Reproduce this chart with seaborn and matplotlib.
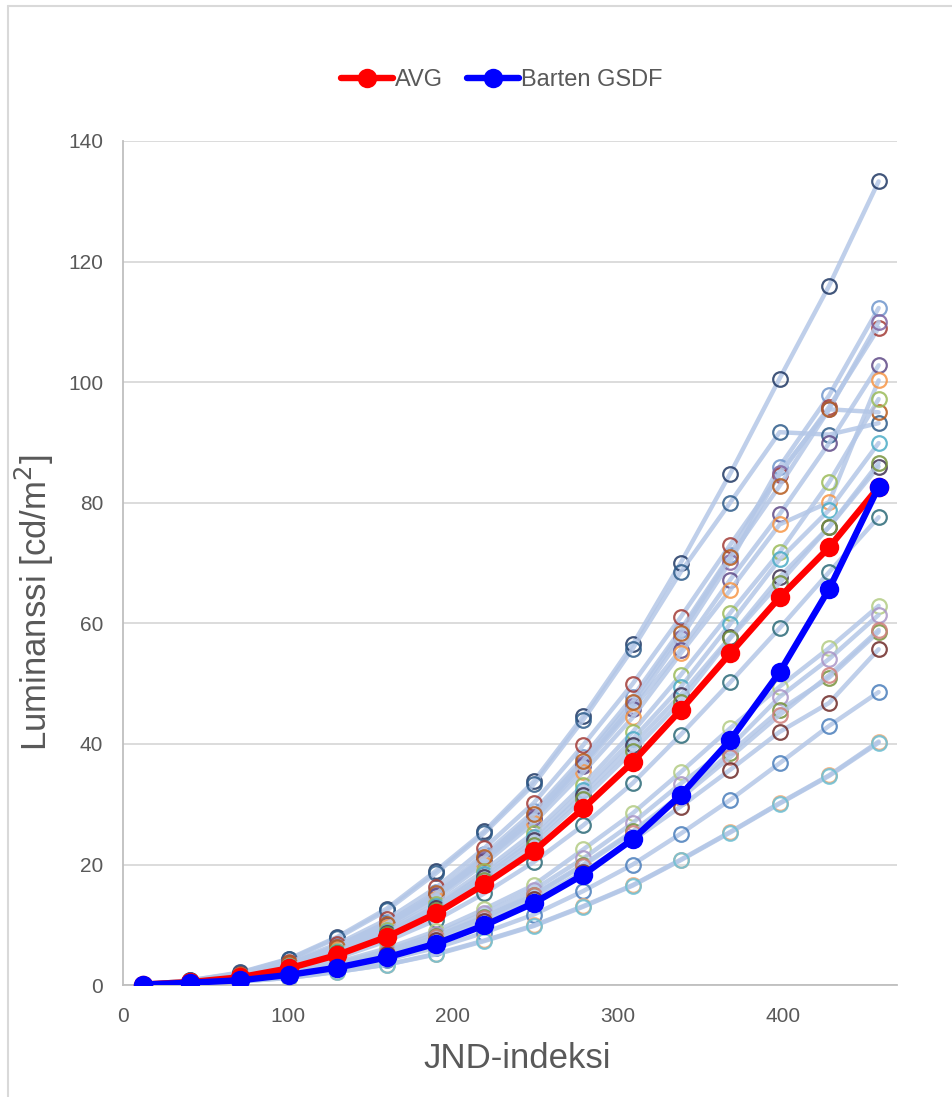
import matplotlib
matplotlib.use("Agg")
import matplotlib.pyplot as plt
import numpy as np
import pandas as pd
import seaborn as sns
from matplotlib.lines import Line2D

# JND index positions shared by every series
jnd = [12, 41, 71, 101, 130, 160, 190, 219, 249, 279, 309, 338, 368, 398, 428, 458]

# measured displays (light lines, hollow markers)
displays = {
    "s01": [0.1, 0.8, 2.1, 4.4, 8.0, 12.7, 19.0, 25.5, 33.8, 44.6, 56.5, 70.0, 84.8, 100.6, 116.0, 133.3],
    "s02": [0.1, 0.8, 2.0, 4.3, 7.8, 12.4, 18.6, 25.2, 33.3, 44.0, 55.8, 68.5, 80.0, 91.7, 91.3, 93.2],
    "s03": [0.1, 0.65, 1.7, 3.6, 6.5, 10.4, 15.4, 21.7, 28.8, 37.8, 47.8, 58.9, 71.3, 86.0, 97.8, 112.3],
    "s04": [0.1, 0.7, 1.8, 3.8, 6.8, 10.9, 16.2, 22.7, 30.2, 39.8, 50.0, 61.0, 73.0, 84.6, 95.9, 109.0],
    "s05": [0.1, 0.65, 1.7, 3.5, 6.3, 10.0, 14.9, 20.9, 27.8, 36.7, 46.3, 57.5, 70.2, 85.0, 95.5, 110.0],
    "s06": [0.1, 0.6, 1.6, 3.5, 6.2, 9.9, 14.7, 20.6, 27.5, 36.3, 45.8, 55.6, 67.2, 78.1, 89.9, 102.8],
    "s07": [0.1, 0.6, 1.6, 3.4, 6.0, 9.6, 14.3, 20.1, 26.9, 35.3, 44.4, 55.0, 65.5, 76.4, 80.1, 100.3],
    "s08": [0.1, 0.65, 1.7, 3.6, 6.4, 10.2, 15.2, 21.2, 28.3, 37.2, 47.0, 58.4, 71.0, 82.8, 95.5, 95.0],
    "s09": [0.1, 0.55, 1.5, 3.2, 5.7, 9.1, 13.5, 19.0, 25.3, 33.2, 42.0, 51.4, 61.7, 71.8, 83.4, 97.2],
    "s10": [0.1, 0.55, 1.4, 3.1, 5.5, 8.8, 13.1, 18.4, 24.5, 32.3, 40.8, 49.4, 59.9, 70.6, 78.8, 89.9],
    "s11": [0.1, 0.55, 1.4, 3.0, 5.4, 8.6, 12.8, 18.0, 24.0, 31.6, 39.8, 48.1, 57.7, 67.7, 76.0, 86.0],
    "s12": [0.1, 0.5, 1.4, 2.9, 5.3, 8.4, 12.5, 17.5, 23.3, 30.8, 38.8, 47.0, 57.5, 66.7, 76.0, 86.6],
    "s13": [0.1, 0.45, 1.2, 2.5, 4.5, 7.3, 10.8, 15.2, 20.4, 26.5, 33.5, 41.5, 50.2, 59.2, 68.5, 77.6],
    "s14": [0.1, 0.4, 1.0, 2.1, 3.8, 6.1, 9.0, 12.6, 16.6, 22.5, 28.5, 35.3, 42.6, 49.5, 55.9, 62.9],
    "s15": [0.1, 0.35, 0.95, 2.0, 3.6, 5.7, 8.5, 11.9, 15.8, 21.0, 26.9, 33.4, 39.5, 47.8, 54.1, 61.4],
    "s16": [0.1, 0.35, 0.9, 1.9, 3.4, 5.4, 8.1, 11.3, 15.0, 20.0, 25.5, 31.5, 38.5, 45.6, 51.0, 58.6],
    "s17": [0.1, 0.35, 0.9, 1.9, 3.4, 5.4, 8.0, 11.2, 14.9, 19.8, 25.3, 31.0, 37.8, 44.8, 51.4, 58.9],
    "s18": [0.1, 0.3, 0.85, 1.8, 3.2, 5.1, 7.5, 10.6, 14.2, 18.8, 24.0, 29.6, 35.7, 42.0, 46.8, 55.7],
    "s19": [0.1, 0.3, 0.7, 1.5, 2.6, 4.2, 6.2, 8.7, 11.7, 15.6, 20.0, 25.1, 30.7, 36.8, 43.0, 48.6],
    "s20": [0.1, 0.25, 0.6, 1.2, 2.2, 3.4, 5.2, 7.4, 9.9, 13.1, 16.6, 20.8, 25.4, 30.2, 34.8, 40.4],
    "s21": [0.1, 0.25, 0.6, 1.2, 2.2, 3.4, 5.1, 7.3, 9.8, 13.0, 16.5, 20.7, 25.3, 30.1, 34.7, 40.2],
}
marker_colors = {
    "s01": "#203864", "s02": "#2E5C8A", "s03": "#6F95CC", "s04": "#A33B36",
    "s05": "#8064A2", "s06": "#5F4A87", "s07": "#F79646", "s08": "#B65A1C",
    "s09": "#9BBB59", "s10": "#4BACC6", "s11": "#3F3151", "s12": "#77933C",
    "s13": "#2B6A78", "s14": "#B3CC84", "s15": "#A995C7", "s16": "#77933C",
    "s17": "#CF7F7B", "s18": "#6E2A28", "s19": "#4A7EBB", "s20": "#F4AA74",
    "s21": "#6CC0D6",
}

avg = [0.1, 0.5, 1.3, 2.8, 5.0, 8.0, 11.9, 16.7, 22.2, 29.3, 37.0, 45.6, 55.0, 64.3, 72.6, 82.6]
barten = [0.1, 0.4, 0.8, 1.7, 2.9, 4.6, 6.9, 9.9, 13.6, 18.3, 24.2, 31.5, 40.6, 51.9, 65.7, 82.6]

LINE_BLUE = "#B4C7E7"
TEXT_GRAY = "#595959"

sns.set_style("white")
plt.rcParams["font.family"] = ["Liberation Sans", "DejaVu Sans"]

fig = plt.figure(figsize=(9.52, 10.97), dpi=100)
ax = fig.add_axes([0.129, 0.102, 0.813, 0.7695])

# outer chart frame (left and top edges visible)
fig.add_artist(Line2D([0.0085, 0.0085], [0.0, 0.9945], color="#D9D9D9", lw=1.5))
fig.add_artist(Line2D([0.0085, 1.0], [0.9945, 0.9945], color="#D9D9D9", lw=1.5))

for name, vals in displays.items():
    df = pd.DataFrame({"jnd": jnd, "lum": vals})
    sns.lineplot(
        data=df, x="jnd", y="lum", ax=ax,
        color=LINE_BLUE, lw=3.2, alpha=0.85,
        marker="o", markersize=10.5,
        markerfacecolor="none", markeredgecolor=marker_colors[name],
        markeredgewidth=1.6, legend=False,
    )

sns.lineplot(x=jnd, y=avg, ax=ax, color="#FF0000", lw=4.6, marker="o",
             markersize=14, markeredgecolor="#FF0000", markeredgewidth=0,
             label="AVG", zorder=5)
sns.lineplot(x=jnd, y=barten, ax=ax, color="#0000FF", lw=4.6, marker="o",
             markersize=14, markeredgecolor="#0000FF", markeredgewidth=0,
             label="Barten GSDF", zorder=6)

ax.set_xlim(0, 469)
ax.set_ylim(0, 140)
ax.set_xticks([0, 100, 200, 300, 400])
ax.set_yticks(np.arange(0, 141, 20))
ax.yaxis.grid(True, color="#D9D9D9", lw=1.3)
ax.xaxis.grid(False)
ax.set_axisbelow(True)
for side in ["top", "right"]:
    ax.spines[side].set_visible(False)
for side in ["left", "bottom"]:
    ax.spines[side].set_color("#BFBFBF")
    ax.spines[side].set_linewidth(1.3)
ax.tick_params(length=0, labelsize=15, labelcolor=TEXT_GRAY)
ax.tick_params(axis="y", pad=14)
ax.tick_params(axis="x", pad=16)

ax.set_xlabel("JND-indeksi", fontsize=25, color=TEXT_GRAY, va="center")
ax.set_ylabel("Luminanssi [cd/m$^2$]", fontsize=25, color=TEXT_GRAY, va="center")
ax.xaxis.set_label_coords(0.51, -0.087)
ax.yaxis.set_label_coords(-0.114, 0.453)

handles, labels = ax.get_legend_handles_labels()
if ax.get_legend() is not None:
    ax.get_legend().remove()
fig.legend(handles, labels, loc="center", bbox_to_anchor=(0.527, 0.927),
           ncol=2, frameon=False, fontsize=17, labelcolor=TEXT_GRAY,
           handlelength=2.2, handletextpad=0.1, columnspacing=1.0)

fig.savefig("out.png", dpi=100)
